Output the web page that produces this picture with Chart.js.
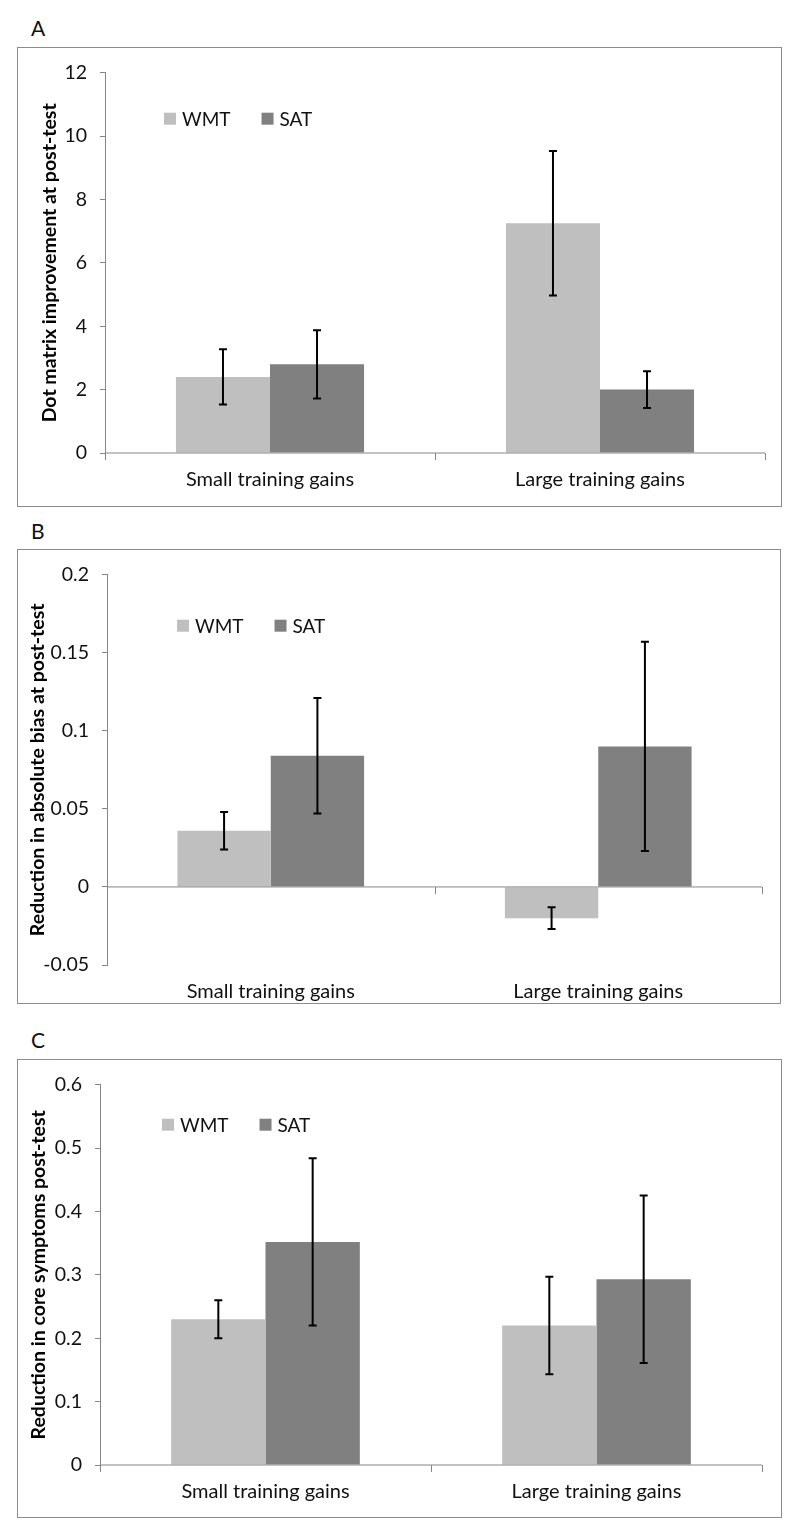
<!DOCTYPE html>
<html>
<head>
<meta charset="utf-8">
<script src="https://cdn.jsdelivr.net/npm/chart.js@4.4.1/dist/chart.umd.min.js"></script>
<style>
  body { margin: 0; background: #fff; width: 800px; height: 1535px; position: relative; font-family: Lato, sans-serif; }
  .tag { position: absolute; left: 31px; font-size: 21px; line-height: 21px; color: #111; }
  .box { position: absolute; border: 1px solid #8c8c8c; }
  .box canvas { position: absolute; left: 0; top: 0; }
</style>
</head>
<body>
<div class="tag" style="top:16.5px">A</div>
<div class="box" style="left:17px;top:47px;width:763px;height:458px"><canvas id="chartA" width="763" height="458"></canvas></div>
<div class="tag" style="top:519.5px">B</div>
<div class="box" style="left:17px;top:549px;width:762px;height:453px"><canvas id="chartB" width="762" height="453"></canvas></div>
<div class="tag" style="top:1029px">C</div>
<div class="box" style="left:17px;top:1059px;width:763px;height:457px"><canvas id="chartC" width="763" height="457"></canvas></div>

<script>
// categories and series names
const groups = ["Small training gains", "Large training gains"];
const seriesNames = ["WMT", "SAT"];

// A - dot matrix improvement
const dotWMT = [2.4, 7.25];
const dotSAT = [2.8, 2.0];
const dotWMTLow = [1.53, 4.97];
const dotWMTHigh = [3.27, 9.53];
const dotSATLow = [1.72, 1.42];
const dotSATHigh = [3.87, 2.58];
const dotTicks = [0, 2, 4, 6, 8, 10, 12];

// B - reduction in absolute bias
const biasWMT = [0.036, -0.02];
const biasSAT = [0.084, 0.09];
const biasWMTLow = [0.024, -0.027];
const biasWMTHigh = [0.048, -0.013];
const biasSATLow = [0.047, 0.023];
const biasSATHigh = [0.121, 0.157];
const biasTicks = [-0.05, 0, 0.05, 0.1, 0.15, 0.2];

// C - reduction in core symptoms
const coreWMT = [0.23, 0.22];
const coreSAT = [0.352, 0.293];
const coreWMTLow = [0.2, 0.143];
const coreWMTHigh = [0.26, 0.297];
const coreSATLow = [0.22, 0.161];
const coreSATHigh = [0.484, 0.425];
const coreTicks = [0, 0.1, 0.2, 0.3, 0.4, 0.5, 0.6];

const colors = ["#bfbfbf", "#808080"];
const axisGray = "#868686";

// error bars drawn from the dataset's low/high arrays
const errorBars = {
  id: "errorBars",
  afterDatasetsDraw(chart) {
    const ctx = chart.ctx, y = chart.scales.y;
    chart.data.datasets.forEach((ds, i) => {
      chart.getDatasetMeta(i).data.forEach((bar, j) => {
        const top = y.getPixelForValue(ds.errHigh[j]);
        const bot = y.getPixelForValue(ds.errLow[j]);
        ctx.save();
        ctx.strokeStyle = "#000";
        ctx.lineWidth = 2;
        ctx.beginPath();
        ctx.moveTo(bar.x, top); ctx.lineTo(bar.x, bot);
        ctx.moveTo(bar.x - 4, top); ctx.lineTo(bar.x + 4, top);
        ctx.moveTo(bar.x - 4, bot); ctx.lineTo(bar.x + 4, bot);
        ctx.stroke();
        ctx.restore();
      });
    });
  }
};

// horizontal axis line at zero with tick marks between categories
const zeroAxis = {
  id: "zeroAxis",
  afterDatasetsDraw(chart) {
    const ctx = chart.ctx, area = chart.chartArea;
    const y0 = chart.scales.y.getPixelForValue(0);
    const n = chart.data.labels.length;
    ctx.save();
    ctx.strokeStyle = axisGray;
    ctx.lineWidth = 1;
    ctx.beginPath();
    ctx.moveTo(area.left, y0); ctx.lineTo(area.right, y0);
    for (let i = 0; i <= n; i++) {
      const x = Math.round(area.left + i * (area.right - area.left) / n) + 0.5;
      ctx.moveTo(x, y0); ctx.lineTo(x, y0 + 7);
    }
    ctx.stroke();
    ctx.restore();
  }
};

// legend inside the plot area
const innerLegend = {
  id: "innerLegend",
  afterDraw(chart, args, opts) {
    const ctx = chart.ctx, area = chart.chartArea;
    let x = area.left + opts.dx;
    const y = area.top + opts.dy;
    ctx.save();
    ctx.font = "19px Lato";
    ctx.textBaseline = "middle";
    chart.data.datasets.forEach(ds => {
      ctx.fillStyle = ds.backgroundColor;
      ctx.fillRect(x, y - 6, 12, 12);
      ctx.fillStyle = "#111";
      ctx.fillText(ds.label, x + 18, y + 1);
      x += 18 + ctx.measureText(ds.label).width + 31;
    });
    ctx.restore();
  }
};

function makeChart(id, p) {
  new Chart(document.getElementById(id), {
    type: "bar",
    data: {
      labels: groups,
      datasets: [
        { label: seriesNames[0], data: p.wmt, errLow: p.wmtLow, errHigh: p.wmtHigh, backgroundColor: colors[0] },
        { label: seriesNames[1], data: p.sat, errLow: p.satLow, errHigh: p.satHigh, backgroundColor: colors[1] }
      ]
    },
    options: {
      responsive: false,
      animation: false,
      layout: { padding: p.pad },
      datasets: { bar: { categoryPercentage: 0.57, barPercentage: 1 } },
      plugins: {
        legend: { display: false },
        tooltip: { enabled: false },
        innerLegend: p.legend
      },
      scales: {
        x: {
          grid: { display: false, drawTicks: false },
          border: { display: false },
          ticks: { padding: 15, color: "#111", font: { family: "Lato", size: 20 } },
          afterFit: s => { s.height = p.xHeight; }
        },
        y: {
          min: p.ticks[0],
          max: p.ticks[p.ticks.length - 1],
          afterBuildTicks: s => { s.ticks = p.ticks.map(v => ({ value: v })); },
          grid: { drawOnChartArea: false, drawTicks: true, tickLength: 5, color: axisGray },
          border: { display: true, color: axisGray, width: 1 },
          ticks: {
            padding: 13, color: "#111", font: { family: "Lato", size: 19.5 },
            callback: v => String(+v.toFixed(2))
          },
          title: {
            display: true, text: p.title, color: "#000",
            padding: { top: 0, bottom: 0 },
            font: { family: "Lato", size: 19.5, weight: "bold" }
          },
          afterFit: s => { s.width = p.yWidth; }
        }
      }
    },
    plugins: [zeroAxis, errorBars, innerLegend]
  });
}

makeChart("chartA", {
  wmt: dotWMT, sat: dotSAT, wmtLow: dotWMTLow, wmtHigh: dotWMTHigh, satLow: dotSATLow, satHigh: dotSATHigh,
  ticks: dotTicks, title: "Dot matrix improvement at post-test",
  pad: { left: 20, right: 16, top: 23, bottom: 13 }, yWidth: 67, xHeight: 40,
  legend: { dx: 59, dy: 46 }
});

makeChart("chartB", {
  wmt: biasWMT, sat: biasSAT, wmtLow: biasWMTLow, wmtHigh: biasWMTHigh, satLow: biasSATLow, satHigh: biasSATHigh,
  ticks: biasTicks, title: "Reduction in absolute bias at post-test",
  pad: { left: 8, right: 18, top: 12, bottom: 2 }, yWidth: 81, xHeight: 36,
  legend: { dx: 70, dy: 51 }
});

makeChart("chartC", {
  wmt: coreWMT, sat: coreSAT, wmtLow: coreWMTLow, wmtHigh: coreWMTHigh, satLow: coreSATLow, satHigh: coreSATHigh,
  ticks: coreTicks, title: "Reduction in core symptoms post-test",
  pad: { left: 9, right: 19, top: 23, bottom: 12 }, yWidth: 73, xHeight: 40,
  legend: { dx: 62, dy: 40 }
});
</script>
</body>
</html>
